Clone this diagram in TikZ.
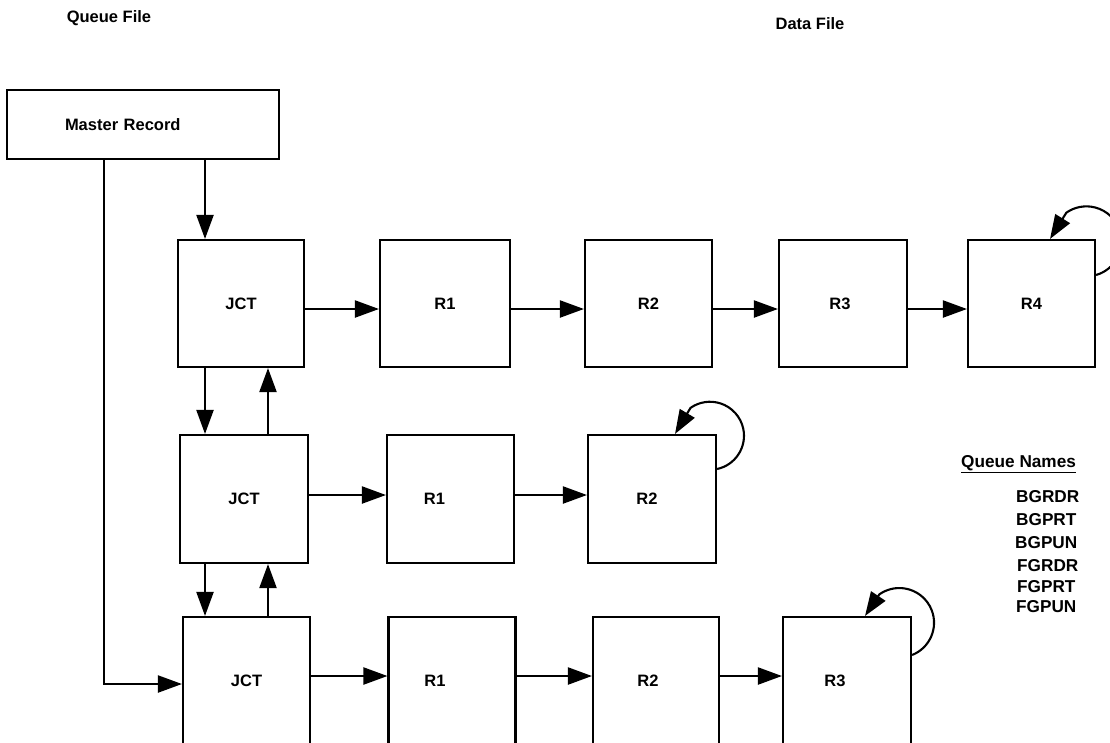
\documentclass[tikz,border=0pt]{standalone}
\usepackage{fontspec}
\setmainfont{Liberation Sans}
\usetikzlibrary{arrows.meta}
\newcommand\lblsh[2]{\kern#1\makebox[0pt]{#2}\kern-#1}
\begin{document}
\begin{tikzpicture}[x=1pt,y=-1pt,
  bx/.style 2 args={draw,line width=2.1pt,minimum width=#1pt,minimum height=#2pt,inner sep=0pt,
    font=\fontsize{16.5}{19}\selectfont\bfseries},
  arr/.style={line width=2.1pt,-{Triangle[length=24pt,width=17pt]}},
  hdr/.style={inner sep=0pt,font=\fontsize{16.5}{19}\selectfont\bfseries},
  qn/.style={inner sep=0pt,anchor=west,font=\fontsize{17.2}{20}\selectfont\bfseries}]
\clip (0,0) rectangle (1110,742);
\fill[white] (0,0) rectangle (1110,742);
% headers
\node[hdr] (qf) at (109,18) {Queue File};
\node[hdr] (df) at (810,24) {Data File};
% master record
\node[draw,line width=2.1pt,minimum height=69pt,text width=156pt,inner xsep=58pt,inner ysep=0pt,align=left,
  font=\fontsize{16.5}{19}\selectfont\bfseries] (master) at (143,124.5) {Master Record};
% row 1
\node[bx={126}{127}] (j1) at (241,303.5) {JCT};
\node[bx={130}{127}] (a1) at (445,303.5) {R1};
\node[bx={127}{127}] (a2) at (648.5,303.5) {R2};
\node[bx={128}{127}] (a3) at (843,303.5) {\lblsh{-3pt}{R3}};
\node[bx={127}{127}] (a4) at (1031.5,303.5) {R4};
% row 2
\node[bx={128}{128}] (j2) at (244,499) {JCT};
\node[bx={127}{128}] (b1) at (450.5,499) {\lblsh{-16pt}{R1}};
\node[bx={128}{128}] (b2) at (652,499) {\lblsh{-5pt}{R2}};
% row 3
\node[bx={127}{128}] (j3) at (246.5,681) {JCT};
\node[bx={127}{128}] (c1) at (452,681) {\lblsh{-17pt}{R1}};
\node[bx={126}{128}] (c2) at (656,681) {\lblsh{-8pt}{R2}};
\node[bx={128}{128}] (c3) at (847,681) {\lblsh{-12pt}{R3}};
% helper coordinates
\coordinate (dn) at (205,0);
\coordinate (up) at (268,0);
\coordinate (ry1) at (0,309);
\coordinate (ry2) at (0,495);
\coordinate (ry3) at (0,676);
\coordinate (lf) at (104,684);
% master connections
\draw[arr] (master.south -| dn) -- (j1.north -| dn);
\draw[arr] (master.south -| lf) -- (lf) -- (j3.west |- lf);
% JCT chain
\draw[arr] (j1.south -| dn) -- (j2.north -| dn);
\draw[arr] (j2.north -| up) -- (j1.south -| up);
\draw[arr] (j2.south -| dn) -- (j3.north -| dn);
\draw[arr] (j3.north -| up) -- (j2.south -| up);
% row 1 arrows
\draw[arr] (j1.east |- ry1) -- (a1.west |- ry1);
\draw[arr] (a1.east |- ry1) -- (a2.west |- ry1);
\draw[arr] (a2.east |- ry1) -- (a3.west |- ry1);
\draw[arr] (a3.east |- ry1) -- (a4.west |- ry1);
% row 2 arrows
\draw[arr] (j2.east |- ry2) -- (b1.west |- ry2);
\draw[arr] (b1.east |- ry2) -- (b2.west |- ry2);
% row 3 arrows
\draw[arr] (j3.east |- ry3) -- (c1.west |- ry3);
\draw[arr] (c1.east |- ry3) -- (c2.west |- ry3);
\draw[arr] (c2.east |- ry3) -- (c3.west |- ry3);
% self loops
\draw[arr] ([yshift=28.5pt]a4.east) arc[start angle=-74,end angle=125,radius=35pt] -- ([xshift=18.5pt]a4.north);
\draw[arr] ([yshift=30pt]b2.east) arc[start angle=-78,end angle=125,radius=34pt] -- ([xshift=23pt]b2.north);
\draw[arr] ([yshift=26pt]c3.east) arc[start angle=-68.5,end angle=125,radius=34.7pt] -- ([xshift=18pt]c3.north);
% queue names
\node[qn] (qh) at (961,464) {\underline{Queue Names}};
\node[qn] (q1) at (1016,497) {BGRDR};
\node[qn] (q2) at (1016,520) {BGPRT};
\node[qn] (q3) at (1015,543) {BGPUN};
\node[qn] (q4) at (1017,566) {FGRDR};
\node[qn] (q5) at (1017,587) {FGPRT};
\node[qn] (q6) at (1016,607) {FGPUN};
\end{tikzpicture}
\end{document}
